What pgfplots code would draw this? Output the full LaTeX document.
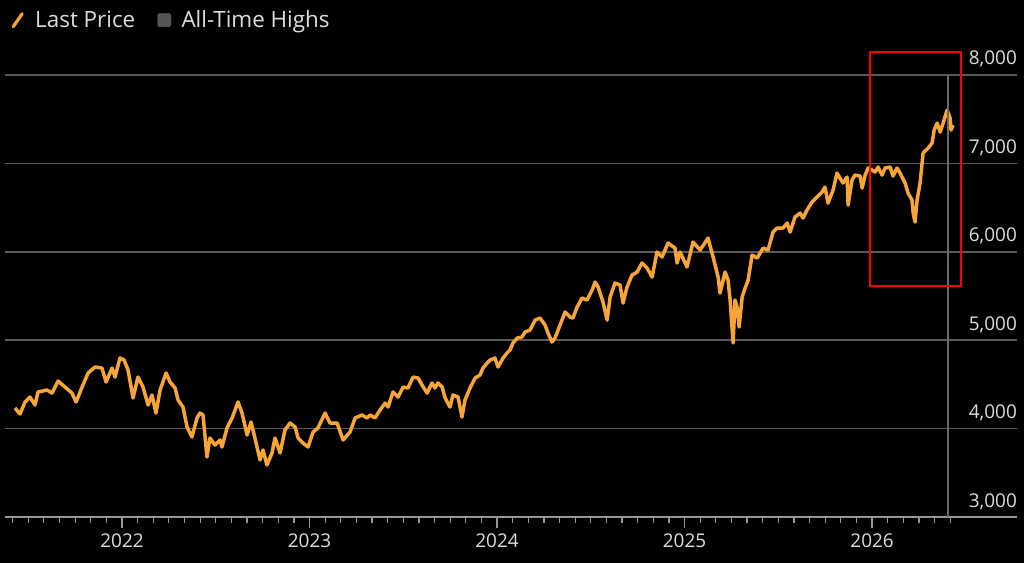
\documentclass[border=0pt]{standalone}
\usepackage{pgfplots}
\pgfplotsset{compat=1.18}
\usepackage{fontspec}
\setmainfont{Open Sans}
\definecolor{lineorange}{RGB}{247,165,55}
\definecolor{gridgray}{RGB}{90,90,90}
\definecolor{axisgray}{RGB}{150,150,150}
\definecolor{textgray}{RGB}{220,220,220}
\definecolor{vlinegray}{RGB}{105,105,105}
\definecolor{legsq}{RGB}{85,85,85}
\begin{document}
\begin{tikzpicture}
\fill[black] (0,0) rectangle (1024bp,563bp);
\useasboundingbox (0,0) rectangle (1024bp,563bp);
\begin{axis}[
  at={(5bp,46bp)}, anchor=south west,
  scale only axis, width=1012bp, height=442bp,
  xmin=2021.376, xmax=2026.773, ymin=3000, ymax=8000,
  clip=false,
  axis x line*=bottom, axis y line*=right,
  x axis line style={-, draw=axisgray, line width=1.2bp},
  y axis line style={draw=none},
  xtick={2022,2023,2024,2025,2026},
  xticklabels={2022,2023,2024,2025,2026},
  minor xtick={2021.4167,2021.5,2021.5833,2021.6667,2021.75,2021.8333,2021.9167,
    2022.0833,2022.1667,2022.25,2022.3333,2022.4167,2022.5,2022.5833,2022.6667,2022.75,2022.8333,2022.9167,
    2023.0833,2023.1667,2023.25,2023.3333,2023.4167,2023.5,2023.5833,2023.6667,2023.75,2023.8333,2023.9167,
    2024.0833,2024.1667,2024.25,2024.3333,2024.4167,2024.5,2024.5833,2024.6667,2024.75,2024.8333,2024.9167,
    2025.0833,2025.1667,2025.25,2025.3333,2025.4167,2025.5,2025.5833,2025.6667,2025.75,2025.8333,2025.9167,
    2026.0833,2026.1667,2026.25,2026.3333,2026.4167},
  tick align=outside,
  major tick length=11bp, minor tick length=6bp,
  xtick style={draw=axisgray, line width=1.2bp},
  ytick={3000,4000,5000,6000,7000,8000},
  ytick style={draw=none},
  yticklabel pos=right,
  ymajorgrids,
  grid style={gridgray, line width=1.5bp},
  /pgf/number format/assume math mode=true,
  /pgf/number format/1000 sep={,},
  tick label style={font=\fontsize{19}{22}\selectfont, text=textgray},
  yticklabel style={anchor=base east, inner sep=0pt, xshift=-11bp, yshift=10bp},
  xticklabel style={anchor=north, inner sep=0pt, yshift=-6bp},
  legend style={at={(0.003,1.124)}, anchor=west, draw=none, fill=none,
    text=textgray, font=\fontsize{22.5}{26}\selectfont,
    legend columns=2, /tikz/every even column/.append style={column sep=20bp}},
  legend cell align=left,
]
\addplot[lineorange, line width=3.5bp, line join=round,
  legend image code/.code={\path[draw=none] (0bp,0bp) -- (22bp,0bp);\draw[lineorange, line width=3.2bp, line cap=round] (2bp,-6.5bp) -- (11bp,6.5bp);}]
  table {
x y
2021.429 4233
2021.456 4165
2021.483 4301
2021.509 4357
2021.536 4267
2021.552 4414
2021.600 4436
2021.627 4402
2021.659 4538
2021.696 4470
2021.733 4402
2021.755 4301
2021.787 4470
2021.819 4629
2021.856 4697
2021.893 4685
2021.915 4527
2021.947 4685
2021.963 4583
2021.989 4798
2022.011 4776
2022.032 4663
2022.059 4346
2022.085 4583
2022.112 4470
2022.139 4267
2022.160 4380
2022.181 4176
2022.203 4436
2022.235 4629
2022.256 4527
2022.283 4459
2022.299 4323
2022.325 4244
2022.347 4018
2022.373 3905
2022.400 4120
2022.416 4176
2022.432 4154
2022.453 3679
2022.469 3893
2022.496 3814
2022.523 3871
2022.533 3792
2022.560 4007
2022.587 4120
2022.619 4301
2022.640 4176
2022.667 3927
2022.688 4074
2022.709 3893
2022.736 3645
2022.752 3758
2022.773 3588
2022.800 3724
2022.816 3893
2022.843 3724
2022.869 3984
2022.896 4063
2022.923 4018
2022.939 3893
2022.965 3837
2022.992 3792
2023.019 3961
2023.045 4007
2023.083 4176
2023.109 4063
2023.147 4063
2023.179 3871
2023.216 3961
2023.243 4120
2023.280 4154
2023.307 4120
2023.323 4154
2023.349 4120
2023.376 4210
2023.403 4289
2023.419 4244
2023.445 4414
2023.472 4357
2023.499 4470
2023.525 4459
2023.552 4583
2023.579 4572
2023.600 4493
2023.627 4402
2023.653 4516
2023.669 4459
2023.685 4516
2023.707 4470
2023.723 4346
2023.749 4244
2023.765 4380
2023.792 4357
2023.813 4131
2023.829 4323
2023.856 4459
2023.883 4572
2023.909 4606
2023.925 4685
2023.947 4742
2023.963 4776
2023.989 4798
2024.005 4697
2024.032 4798
2024.053 4855
2024.069 4889
2024.085 4968
2024.107 5024
2024.133 5036
2024.149 5092
2024.176 5115
2024.203 5228
2024.229 5251
2024.256 5172
2024.272 5081
2024.293 4979
2024.309 5024
2024.336 5172
2024.363 5319
2024.389 5262
2024.405 5251
2024.427 5375
2024.453 5477
2024.480 5454
2024.507 5567
2024.523 5658
2024.539 5601
2024.565 5432
2024.587 5228
2024.603 5488
2024.629 5647
2024.656 5624
2024.672 5420
2024.693 5601
2024.720 5737
2024.747 5771
2024.773 5873
2024.800 5816
2024.827 5714
2024.853 5997
2024.880 5941
2024.912 6099
2024.949 6042
2024.960 5873
2024.976 5997
2025.013 5828
2025.045 6110
2025.083 6020
2025.125 6155
2025.152 5941
2025.179 5714
2025.189 5533
2025.216 5771
2025.232 5680
2025.243 5454
2025.253 5149
2025.259 4968
2025.269 5454
2025.280 5375
2025.291 5149
2025.307 5488
2025.323 5590
2025.339 5680
2025.360 5963
2025.387 5929
2025.419 6042
2025.445 6020
2025.472 6223
2025.493 6269
2025.525 6269
2025.547 6325
2025.563 6223
2025.589 6393
2025.616 6438
2025.632 6382
2025.653 6472
2025.680 6563
2025.707 6619
2025.733 6676
2025.749 6732
2025.765 6551
2025.792 6698
2025.813 6891
2025.829 6834
2025.845 6778
2025.867 6845
2025.872 6529
2025.893 6811
2025.909 6868
2025.936 6857
2025.947 6721
2025.963 6868
2025.979 6947
2026.000 6925
2026.016 6902
2026.032 6959
2026.053 6868
2026.069 6947
2026.096 6959
2026.112 6857
2026.133 6947
2026.149 6891
2026.176 6778
2026.192 6664
2026.213 6585
2026.219 6438
2026.229 6336
2026.240 6585
2026.256 6778
2026.272 7117
2026.299 7173
2026.320 7230
2026.331 7377
2026.347 7456
2026.363 7354
2026.379 7456
2026.400 7603
2026.416 7513
2026.421 7377
2026.432 7434
};
\addlegendentry{Last Price}
\addlegendimage{legend image code/.code={\path[draw=none] (0bp,0bp) -- (22bp,0bp);\fill[legsq, rounded corners=1.5bp] (0bp,-6.5bp) rectangle (13.5bp,6.5bp);}}
\addlegendentry{All-Time Highs}
\addplot[vlinegray, line width=2bp, forget plot] coordinates {(2026.405,3000) (2026.405,8000)};
\addplot[red, line width=2.5bp, forget plot, line join=miter] coordinates {(2025.989,8259) (2026.475,8259) (2026.475,5613) (2025.989,5613) (2025.989,8259)};
\end{axis}
\end{tikzpicture}
\end{document}
